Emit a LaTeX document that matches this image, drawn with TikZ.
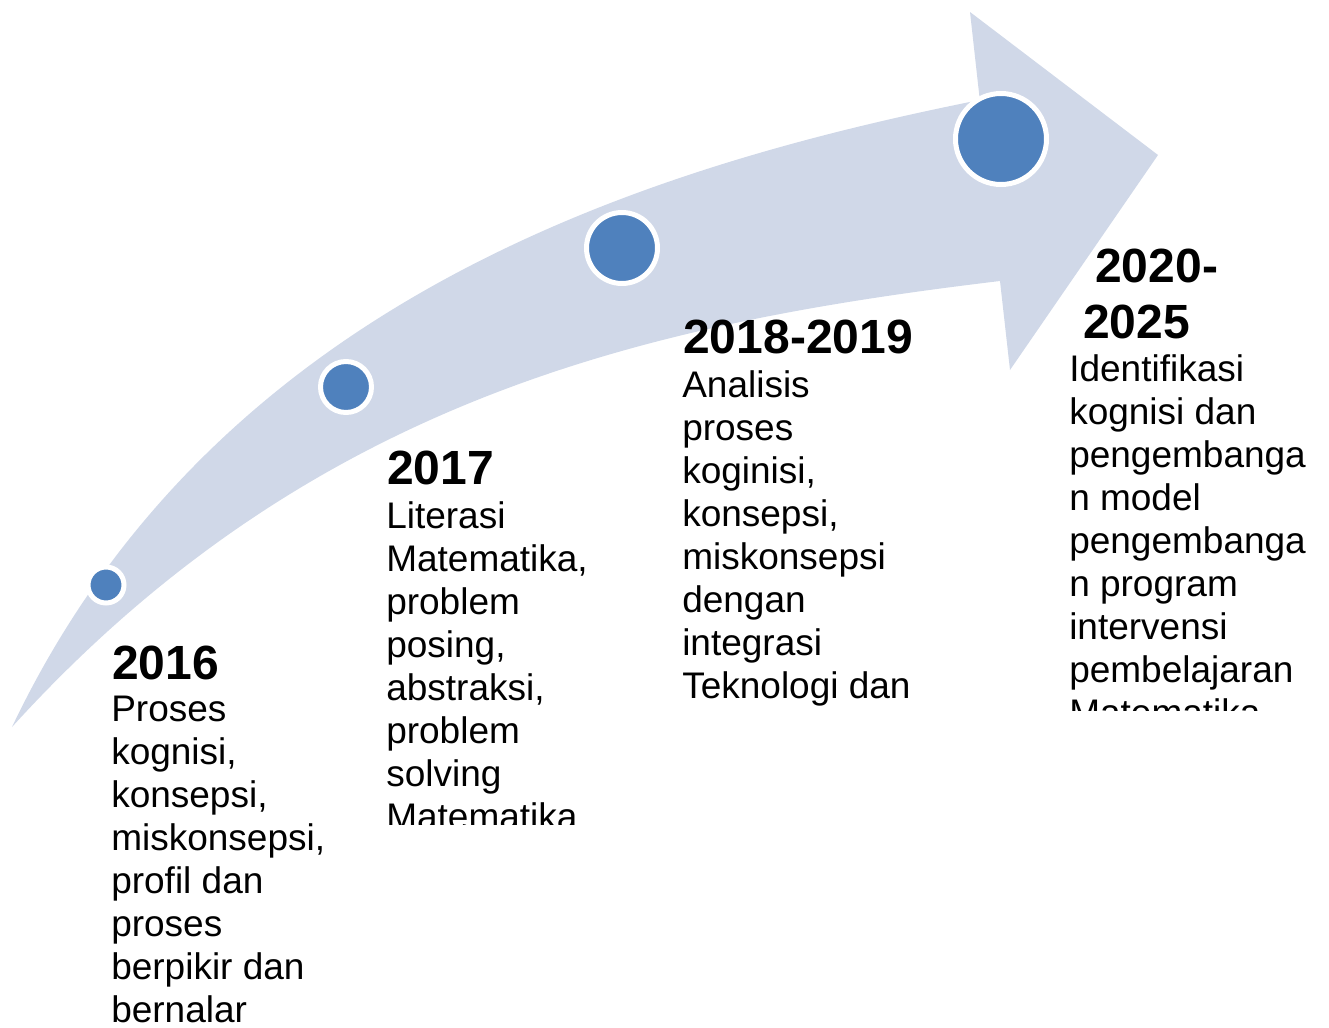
\documentclass[tikz,border=0pt]{standalone}
\usepackage{fontspec}
\setmainfont{Liberation Sans}
\definecolor{bandfill}{HTML}{D0D8E8}
\definecolor{dotblue}{HTML}{4F81BD}
\tikzset{
  dot/.style={circle, fill=dotblue, draw=white, line width=3.75pt, inner sep=0pt},
  yeartext/.style={anchor=base west, inner sep=0pt, font=\fontsize{36}{40}\selectfont\bfseries},
  bodytext/.style={anchor=base west, inner sep=0pt, align=left, font=\fontsize{27.75}{32.25}\selectfont},
}
\begin{document}
\begin{tikzpicture}[x=0.75pt,y=-0.75pt]
\useasboundingbox (0,0) rectangle (1329,1028);
% curved arrow
\fill[bandfill] (12,727) .. controls (212,307) and (629,170) .. (979.8,100)
  -- (970,12) -- (1158,155) -- (1010,370) -- (1000,281)
  .. controls (650,323) and (312,397) .. (12,727) -- cycle;
% milestones
\node[dot, minimum size=27pt] (c1) at (106,585) {};
\node[dot, minimum size=38.25pt] (c2) at (346,387) {};
\node[dot, minimum size=53.25pt] (c3) at (622,248) {};
\node[dot, minimum size=68.25pt] (c4) at (1001,139) {};
% 2016 (node anchored at baseline of its last line)
\node[yeartext] (y1) at (112,679) {2016};
\node[bodytext] (t1) at (111,1022) {Proses\\kognisi,\\konsepsi,\\miskonsepsi,\\profil dan\\proses\\berpikir dan\\bernalar};
% 2017
\node[yeartext] (y2) at (387,484) {2017};
\begin{scope}
\clip (370,490) rectangle (700,824);
\node[bodytext] (t2) at (386,829) {Literasi\\Matematika,\\problem\\posing,\\abstraksi,\\problem\\solving\\Matematika};
\end{scope}
% 2018-2019
\node[yeartext] (y3) at (683,353) {2018-2019};
\begin{scope}
\clip (670,360) rectangle (1000,710);
\node[bodytext] (t3) at (682,741) {Analisis\\proses\\koginisi,\\konsepsi,\\miskonsepsi\\dengan\\integrasi\\Teknologi dan\\Matematika};
\end{scope}
% 2020-2025
\node[yeartext] (y4a) at (1095,282) {2020-};
\node[yeartext] (y4b) at (1083,338) {2025};
\begin{scope}
\clip (1060,345) rectangle (1329,710);
\node[bodytext] (t4) at (1069,725) {Identifikasi\\kognisi dan\\pengembanga\\n model\\pengembanga\\n program\\intervensi\\pembelajaran\\Matematika};
\end{scope}
\end{tikzpicture}
\end{document}
